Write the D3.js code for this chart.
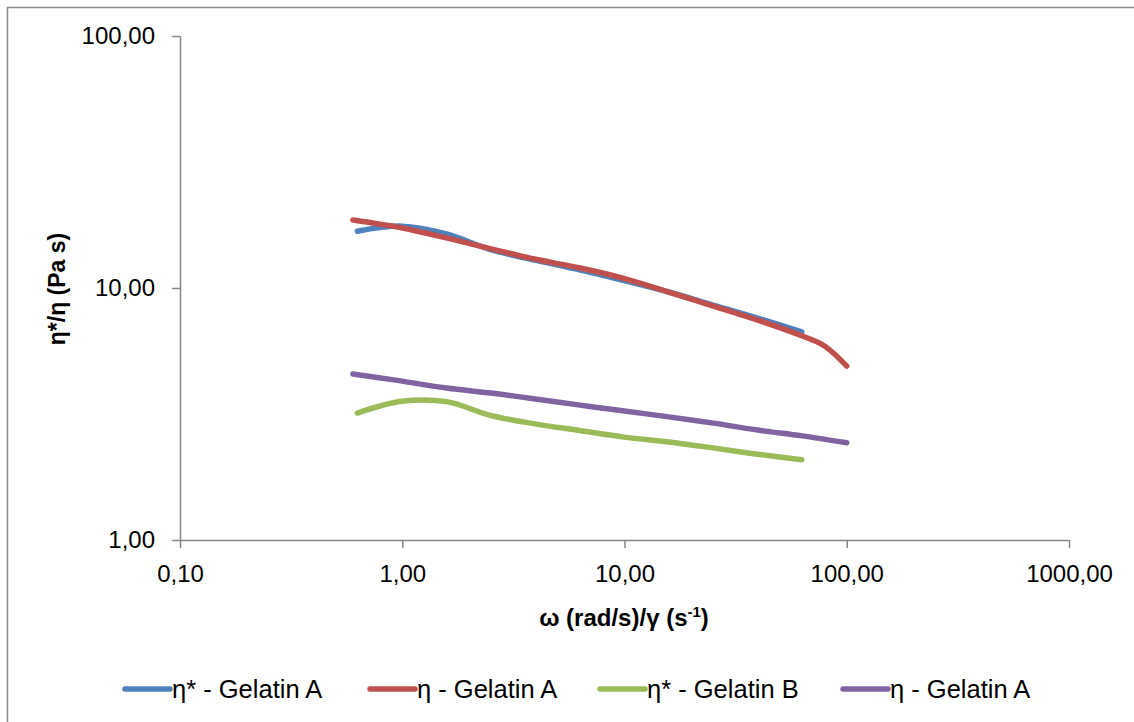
<!DOCTYPE html>
<html>
<head>
<meta charset="utf-8">
<script src="https://cdn.jsdelivr.net/npm/d3@7"></script>
<style>
  body { margin: 0; background: #fff; }
  text { font-family: "Liberation Sans", Arial, sans-serif; fill: #000; }
</style>
</head>
<body>
<div id="chart"></div>
<script>
// rate / frequency values
var omega = [0.628, 0.995, 1.58, 2.5, 3.96, 6.28, 9.95, 15.8, 25, 39.6, 62.8];
var shearRate = [0.6, 1.0, 1.58, 2.51, 3.98, 6.31, 10, 15.8, 25.1, 39.8, 63.1, 79.4, 100];
var shearRate2 = [0.6, 0.9, 1.58, 2.51, 3.98, 6.31, 10, 15.8, 25.1, 39.8, 63.1, 100];

// series values (Pa s)
var etaStarA = [16.8, 17.6, 16.4, 14.2, 12.9, 11.8, 10.7, 9.64, 8.56, 7.6, 6.69];
var etaA = [18.6, 17.3, 15.8, 14.3, 13.0, 12.0, 10.9, 9.64, 8.48, 7.46, 6.45, 5.89, 4.9];
var etaStarB = [3.19, 3.55, 3.54, 3.12, 2.89, 2.72, 2.56, 2.45, 2.32, 2.19, 2.08];
var etaA2 = [4.56, 4.33, 4.01, 3.83, 3.63, 3.43, 3.25, 3.08, 2.91, 2.73, 2.59, 2.43];

var seriesNames = ["η* - Gelatin A", "η - Gelatin A", "η* - Gelatin B", "η - Gelatin A"];
var colors = ["#4F81BD", "#C0504D", "#9BBB59", "#8064A2"];

var xTicks = [0.1, 1, 10, 100, 1000];
var yTicks = [1, 10, 100];

var series = [
  {name: seriesNames[0], xs: omega, ys: etaStarA, color: colors[0]},
  {name: seriesNames[1], xs: shearRate, ys: etaA, color: colors[1]},
  {name: seriesNames[2], xs: omega, ys: etaStarB, color: colors[2]},
  {name: seriesNames[3], xs: shearRate2, ys: etaA2, color: colors[3]}
];

var W = 1134, H = 722;
var svg = d3.select("#chart").append("svg")
    .attr("width", W)
    .attr("height", H);

// outer chart frame (cut off at right/bottom)
svg.append("rect")
    .attr("x", 7.5).attr("y", 7.5)
    .attr("width", W + 20).attr("height", H + 20)
    .attr("fill", "none")
    .attr("stroke", "#8c8c8c")
    .attr("stroke-width", 1.5);

var x = d3.scaleLog().domain([0.1, 1000]).range([180, 1069]);
var y = d3.scaleLog().domain([1, 100]).range([540, 36]);

var fmt = function(v) { return d3.format(".2f")(v).replace(".", ","); };
var axisColor = "#868686";

// y axis
var gy = svg.append("g")
    .attr("transform", "translate(180,0)")
    .call(d3.axisLeft(y).tickValues(yTicks).tickFormat(fmt).tickSize(8).tickSizeOuter(0).tickPadding(17));
// x axis
var gx = svg.append("g")
    .attr("transform", "translate(0,540)")
    .call(d3.axisBottom(x).tickValues(xTicks).tickFormat(fmt).tickSize(8).tickSizeOuter(0).tickPadding(17));

[gx, gy].forEach(function(g) {
  g.select(".domain").attr("stroke", axisColor).attr("stroke-width", 1.5);
  g.selectAll(".tick line").attr("stroke", axisColor).attr("stroke-width", 1.5);
  g.selectAll(".tick text").style("font-size", "24px").attr("fill", "#000");
});

// axis titles
var xt = svg.append("text")
    .attr("x", 624).attr("y", 626)
    .attr("text-anchor", "middle")
    .style("font-size", "24px")
    .style("font-weight", "bold");
xt.append("tspan").text("ω (rad/s)/γ (s");
xt.append("tspan").attr("dy", -9).style("font-size", "15px").text("-1");
xt.append("tspan").attr("dy", 9).text(")");

svg.append("text")
    .attr("transform", "translate(65,289) rotate(-90)")
    .attr("text-anchor", "middle")
    .style("font-size", "23px")
    .style("font-weight", "bold")
    .text("η*/η (Pa s)");

// lines
var line = d3.line()
    .x(function(d) { return x(d[0]); })
    .y(function(d) { return y(d[1]); })
    .curve(d3.curveCatmullRom.alpha(0.5));

series.forEach(function(s) {
  var pts = s.xs.map(function(v, i) { return [v, s.ys[i]]; });
  svg.append("path")
      .datum(pts)
      .attr("d", line)
      .attr("fill", "none")
      .attr("stroke", s.color)
      .attr("stroke-width", 5.5)
      .attr("stroke-linecap", "round")
      .attr("stroke-linejoin", "round");
});

// legend
var legX = [125, 370, 600, 843];
series.forEach(function(s, i) {
  var g = svg.append("g").attr("transform", "translate(" + legX[i] + ",689)");
  g.append("line")
      .attr("x1", 0).attr("x2", 45)
      .attr("stroke", s.color)
      .attr("stroke-width", 5.5)
      .attr("stroke-linecap", "round");
  g.append("text")
      .attr("x", 47).attr("y", 9)
      .style("font-size", "25.5px")
      .text(s.name);
});
</script>
</body>
</html>
